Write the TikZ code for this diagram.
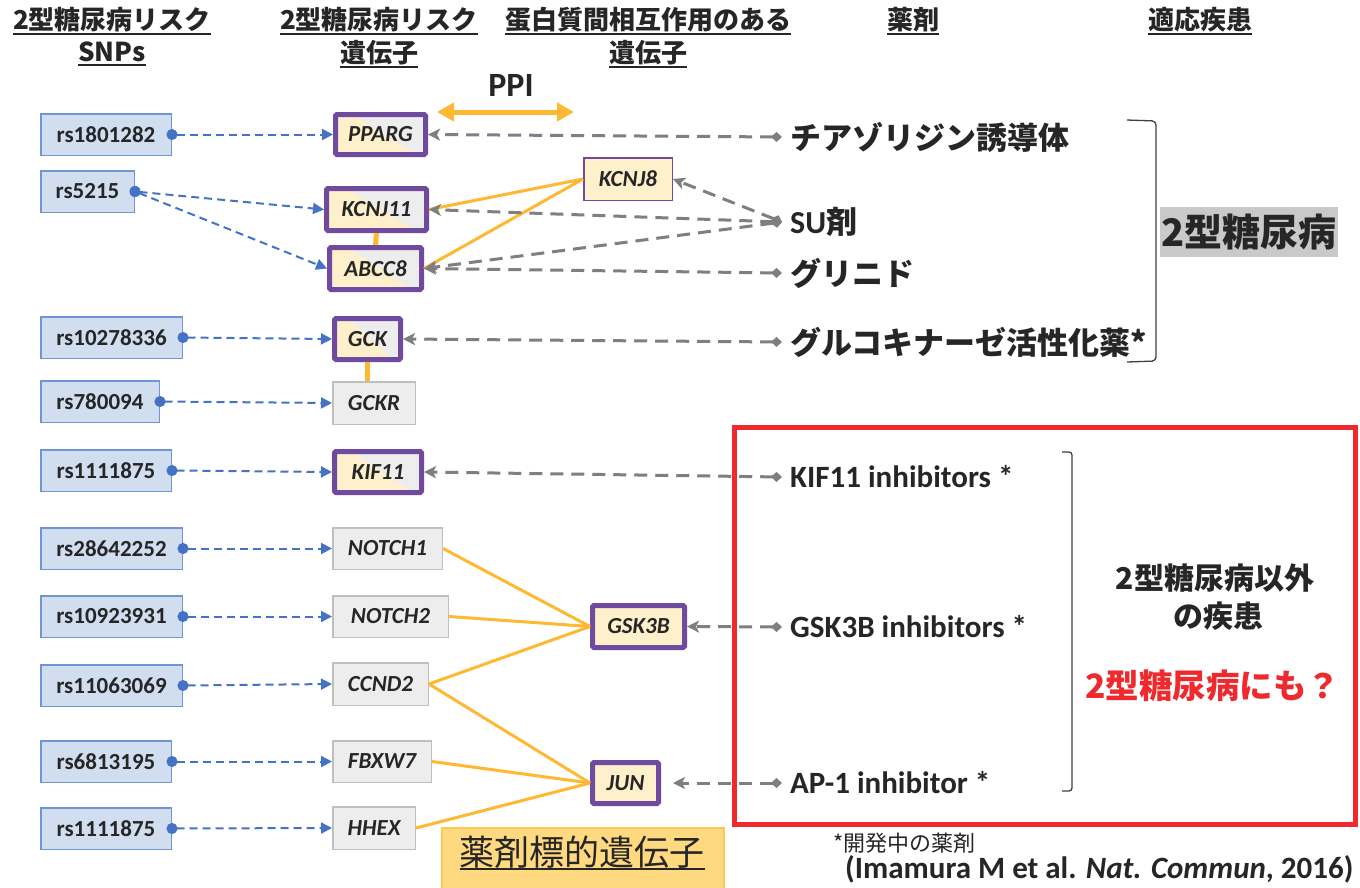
\documentclass[tikz,border=0pt]{standalone}
\usepackage{fontspec}
\setmainfont{Carlito}
\newfontfamily\jp{Noto Sans CJK JP}
\usetikzlibrary{arrows.meta,calc}
\definecolor{snpfill}{HTML}{D0DEF0}
\definecolor{snpdraw}{HTML}{6F96D1}
\definecolor{bluearr}{HTML}{4472C4}
\definecolor{purp}{HTML}{6F4A9E}
\definecolor{cream}{HTML}{FFF0CC}
\definecolor{lgray}{HTML}{EDEDED}
\definecolor{gborder}{HTML}{BFBFBF}
\definecolor{orng}{HTML}{FFB831}
\definecolor{darr}{HTML}{7F7F7F}
\definecolor{txt}{HTML}{262626}
\definecolor{redbox}{HTML}{EE2A2F}
\definecolor{graybox}{HTML}{C9C9C9}
\definecolor{tgfill}{HTML}{FFD97F}
\definecolor{tgdraw}{HTML}{FFC94F}
\newcommand\myfs[1]{\fontsize{#1}{#1}\selectfont}
\newcommand\myul[1]{\setbox0\hbox{#1}\rlap{\rule[-5pt]{\wd0}{2pt}}\box0}
\begin{document}
\begin{tikzpicture}[x=1pt,y=-1pt,
  every node/.append style={text=txt},
  snp/.style={draw=snpdraw, line width=1.5pt, fill=snpfill, minimum height=41.5pt, inner sep=0pt, font=\bfseries\myfs{23}},
  gthick/.style={draw=purp, line width=5pt, rounded corners=1.5pt, inner sep=0pt, font=\bfseries\itshape\myfs{23}},
  gthin/.style={draw=gborder, line width=1.5pt, fill=lgray, inner sep=0pt, font=\bfseries\itshape\myfs{23}},
  split/.style={path picture={
     \fill[cream] (path picture bounding box.south west) rectangle (path picture bounding box.north east);
     \fill[lgray] ($(path picture bounding box.north west)!0.2!(path picture bounding box.north east)$) -- (path picture bounding box.north east) -- (path picture bounding box.south east) -- ($(path picture bounding box.south west)!0.9!(path picture bounding box.south east)$) -- cycle;}},
  drug/.style={anchor=west, inner xsep=8pt, inner ysep=0pt},
  snparr/.style={bluearr, line width=2pt, dash pattern=on 8pt off 5pt, {Circle[length=11pt,width=11pt]}-{Triangle[length=11pt,width=11pt]}, shorten <=-5.5pt},
  drugarr/.style={darr, line width=3pt, dash pattern=on 13pt off 8pt, {Diamond[length=11pt,width=10pt]}-{Stealth[length=12pt,width=12pt,inset=3pt]}},
  ppi/.style={orng, line width=3pt},
  hdr/.style={font=\jp\bfseries\myfs{26}}
]
\useasboundingbox (0,0) rectangle (1360,887);
\fill[white] (0,0) rectangle (1360,887);

% headers
\node[hdr] at (112,21) {\myul{2型糖尿病リスク}};
\node[hdr] at (112,54) {\myul{SNPs}};
\node[hdr] at (379,21) {\myul{2型糖尿病リスク}};
\node[hdr] at (379,54) {\myul{遺伝子}};
\node[hdr] at (648,21) {\myul{蛋白質間相互作用のある}};
\node[hdr] at (648,54) {\myul{遺伝子}};
\node[hdr] at (913,21) {\myul{薬剤}};
\node[hdr] at (1200,21) {\myul{適応疾患}};

% PPI
\node[font=\bfseries\myfs{34}] (ppilab) at (511,85) {PPI};
\coordinate (ppiL) at (437,112);
\coordinate (ppiR) at (574,112);
\draw[orng, line width=5pt, {Triangle[length=17pt,width=18pt]}-{Triangle[length=17pt,width=18pt]}] (ppiL) -- (ppiR);

% SNPs
\node[snp, minimum width=130.5pt] (s1) at (106,134.5) {rs1801282};
\node[snp, minimum width=93.5pt] (s2) at (87.5,191.5) {rs5215};
\node[snp, minimum width=141.5pt] (s3) at (111.5,337.5) {rs10278336};
\node[snp, minimum width=118.5pt] (s4) at (100,401.5) {rs780094};
\node[snp, minimum width=130.5pt] (s5) at (106,470.5) {rs1111875};
\node[snp, minimum width=141.5pt] (s6) at (111.5,548.5) {rs28642252};
\node[snp, minimum width=141.5pt] (s7) at (111.5,616.5) {rs10923931};
\node[snp, minimum width=141.5pt] (s8) at (111.5,685.5) {rs11063069};
\node[snp, minimum width=130.5pt] (s9) at (106,761.5) {rs6813195};
\node[snp, minimum width=130.5pt] (s10) at (106,828.5) {rs1111875};

% genes
\node[gthick, split, minimum width=90pt, minimum height=40pt] (pparg) at (380.5,134.5) {PPARG};
\node[gthick, split, minimum width=100pt, minimum height=42pt] (kcnj11) at (376.5,209.5) {KCNJ11};
\node[gthick, split, minimum width=92pt, minimum height=42pt] (abcc8) at (375.5,268.5) {ABCC8};
\node[gthick, split, minimum width=66pt, minimum height=41pt] (gck) at (367.5,339) {GCK};
\node[gthin, minimum width=82.5pt, minimum height=42.5pt] (gckr) at (374,403) {GCKR};
\node[gthick, split, minimum width=87pt, minimum height=41pt] (kif11) at (378,472) {KIF11};
\node[gthin, minimum width=109.5pt, minimum height=41.5pt] (notch1) at (387.5,548.5) {NOTCH1};
\node[gthin, minimum width=115.5pt, minimum height=41.5pt] (notch2) at (390.5,616.5) {NOTCH2};
\node[gthin, minimum width=95.5pt, minimum height=42.5pt] (ccnd2) at (380.5,684) {CCND2};
\node[gthin, minimum width=98.5pt, minimum height=41.5pt] (fbxw7) at (382,761.5) {FBXW7};
\node[gthin, minimum width=82.5pt, minimum height=42.5pt] (hhex) at (374,828) {HHEX};
\node[draw=purp, line width=1.5pt, fill=cream, inner sep=0pt, font=\bfseries\itshape\myfs{23}, minimum width=88.5pt, minimum height=42.5pt] (kcnj8) at (628,179) {KCNJ8};
\node[gthick, fill=cream, minimum width=92pt, minimum height=42pt] (gsk3b) at (638.5,626.5) {GSK3B};
\node[gthick, fill=cream, minimum width=66pt, minimum height=41pt] (jun) at (625.5,783) {JUN};

% SNP -> gene
\draw[snparr] (s1.east) -- (pparg.west);
\draw[snparr] (s2.east) -- (kcnj11.west);
\draw[snparr] (s2.east) -- (abcc8.west);
\draw[snparr] (s3.east) -- (gck.west);
\draw[snparr] (s4.east) -- (gckr.west);
\draw[snparr] (s5.east) -- (kif11.west);
\draw[snparr] (s6.east) -- (notch1.west);
\draw[snparr] (s7.east) -- (notch2.west);
\draw[snparr] (s8.east) -- (ccnd2.west);
\draw[snparr] (s9.east) -- (fbxw7.west);
\draw[snparr] (s10.east) -- (hhex.west);

% PPI lines
\draw[orng, line width=5pt] (kcnj11.south) -- (abcc8.north);
\draw[orng, line width=5pt] (gck.south) -- (gck.south |- gckr.north);
\draw[ppi] (kcnj8.west) -- (kcnj11.east);
\draw[ppi] (kcnj8.west) -- (abcc8.east);
\draw[ppi] (notch1.east) -- (gsk3b.west);
\draw[ppi] (notch2.east) -- (gsk3b.west);
\draw[ppi] (ccnd2.east) -- (gsk3b.west);
\draw[ppi] (ccnd2.east) -- (jun.west);
\draw[ppi] (fbxw7.east) -- (jun.west);
\draw[ppi] (hhex.east) -- (jun.west);

% drugs
\node[drug, font=\jp\bfseries\myfs{31}] (d1) at (782,137) {チアゾリジン誘導体};
\node[drug, font=\bfseries\myfs{32}] (d2) at (782,222) {SU{\jp\bfseries\myfs{31}剤}};
\node[drug, font=\jp\bfseries\myfs{31}] (d3) at (782,273) {グリニド};
\node[drug, font=\jp\bfseries\myfs{31}] (d4) at (782,342) {グルコキナーゼ活性化薬*};
\node[drug, font=\bfseries\myfs{31}] (d5) at (782,477) {KIF11 inhibitors *};
\node[drug, font=\bfseries\myfs{31}] (d6) at (782,627) {GSK3B inhibitors *};
\node[drug, font=\bfseries\myfs{31}] (d7) at (782,783) {AP-1 inhibitor *};

\draw[drugarr] (d1.west) -- (pparg.east);
\draw[drugarr] (d2.west) -- (kcnj11.east);
\draw[drugarr] (d2.west) -- (abcc8.east);
\draw[drugarr] (d2.west) -- (kcnj8.east);
\draw[drugarr] (d3.west) -- (abcc8.east);
\draw[drugarr] (d4.west) -- (gck.east);
\draw[drugarr] (d5.west) -- (kif11.east);
\draw[drugarr] (d6.west) -- (gsk3b.east);
\draw[drugarr, shorten >=12pt] (d7.west) -- (jun.east);

% brackets
\draw[black!75, line width=1.3pt, rounded corners=4pt] (1127,120) -- (1156,121) -- (1156,361) -- (1127,362);
\draw[black!75, line width=1.3pt, rounded corners=3pt] (1062,452) -- (1072,452) -- (1072,791) -- (1062,791);

% disease labels
\node[fill=graybox, inner xsep=1pt, inner ysep=0pt, minimum height=50pt, font=\jp\bfseries\myfs{38}] (t2d) at (1249,232) {2型糖尿病};

\draw[redbox, line width=5pt] (734.5,427) rectangle (1355.5,824.5);
\node[font=\jp\bfseries\myfs{30}] (oth1) at (1215,578) {2型糖尿病以外};
\node[font=\jp\bfseries\myfs{30}] (oth2) at (1218,616) {の疾患};
\node[font=\jp\bfseries\myfs{33.5}, text=redbox] (also) at (1213,686) {2型糖尿病にも？};

% target gene label
\node[fill=tgfill, draw=tgdraw, line width=2pt, minimum width=282pt, minimum height=70pt, anchor=north west] (tgbox) at (441,827) {};
\node[font=\jp\myfs{35}] (tglab) at (582,853) {\myul{薬剤標的遺伝子}};

% footnotes
\node[anchor=west, font=\jp\myfs{22}] (fn) at (830,843) {*開発中の薬剤};
\node[anchor=east, font=\bfseries\myfs{31}] (cite) at (1357,869) {(Imamura M et al. \textit{Nat. Commun}, 2016)};
\end{tikzpicture}
\end{document}
